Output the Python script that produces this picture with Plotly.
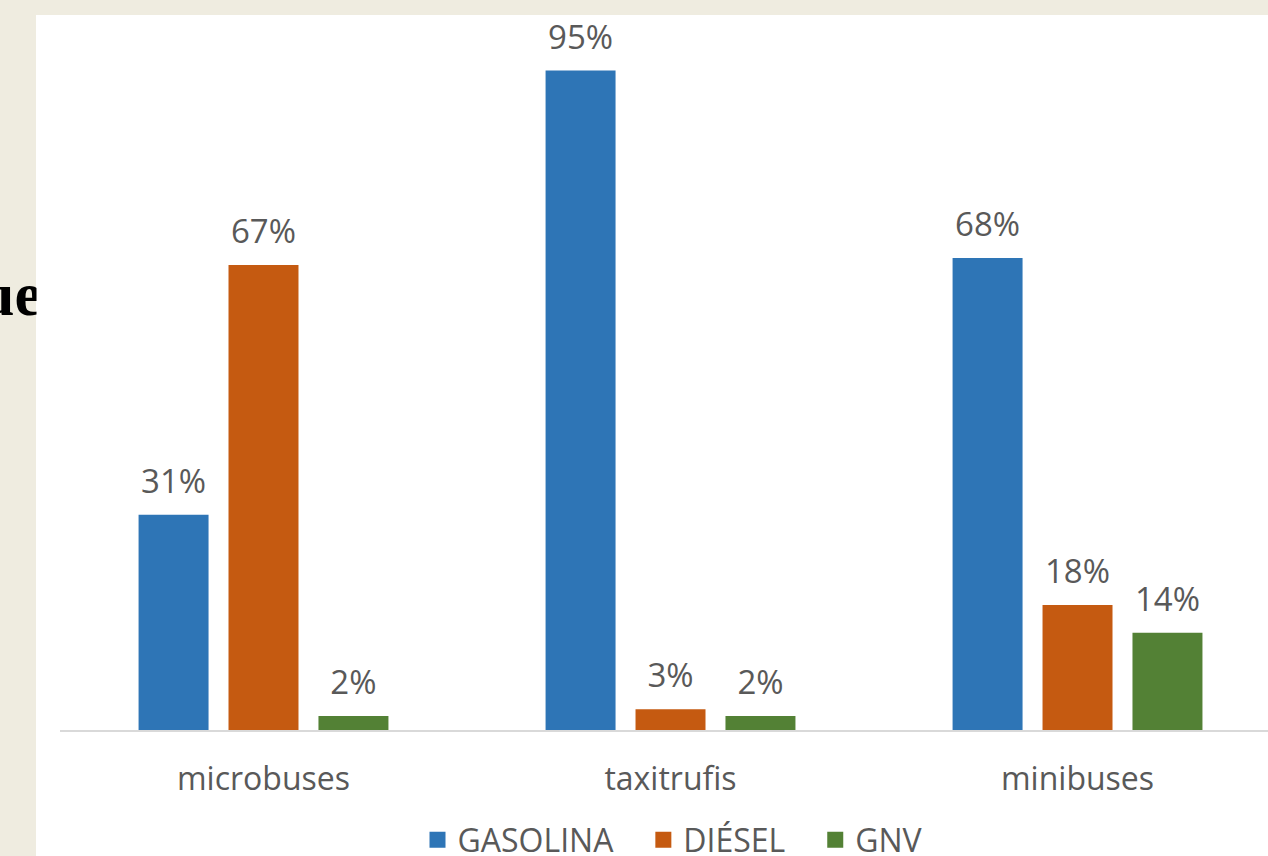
import plotly.graph_objects as go

# Fuel share by vehicle type
categories = ["microbuses", "taxitrufis", "minibuses"]
series_names = ["GASOLINA", "DIÉSEL", "GNV"]
gasolina = [31, 95, 68]
diesel = [67, 3, 18]
gnv = [2, 2, 14]
series_values = [gasolina, diesel, gnv]
series_colors = ["#2E75B6", "#C55A11", "#538135"]

side_text = "ue"

W, H = 1268, 856
M_L, M_R, M_T, M_B = 60, 0, 15, 126
plot_w = W - M_L - M_R
plot_h = H - M_T - M_B

text_gray = "#595959"
font_family = "Open Sans, Noto Sans, sans-serif"
label_size = 33


def px_x(px):
    """Horizontal pixel -> paper fraction."""
    return (px - M_L) / plot_w


def px_y(py):
    """Vertical pixel (from top) -> paper fraction."""
    return (H - M_B - py) / plot_h


fig = go.Figure()

for name, vals, color in zip(series_names, series_values, series_colors):
    fig.add_trace(go.Bar(
        x=categories, y=vals, name=name,
        marker=dict(color=color, line=dict(width=0)),
        showlegend=False, hoverinfo="skip",
    ))

# value labels, offset like the grouped bars
for i, (name, vals) in enumerate(zip(series_names, series_values)):
    fig.add_trace(go.Scatter(
        x=categories, y=vals, mode="markers+text",
        text=[f"{v}%" for v in vals], textposition="top center",
        textfont=dict(size=label_size, color=text_gray, family=font_family),
        marker=dict(size=20, opacity=0),
        alignmentgroup="labels", offsetgroup=str(i),
        showlegend=False, hoverinfo="skip", cliponaxis=False,
    ))

# legend entries (kept on a hidden overlay so they don't join the label groups)
legend_pad = ["\u00a0\u00a0\u00a0", "\u00a0\u00a0\u00a0", ""]
for name, color, pad in zip(series_names, series_colors, legend_pad):
    fig.add_trace(go.Scatter(
        x=[None], y=[None], mode="markers", name=name + pad,
        marker=dict(symbol="square", size=16, color=color),
        xaxis="x2", yaxis="y2", showlegend=True, hoverinfo="skip",
    ))

fig.update_layout(
    width=W, height=H,
    margin=dict(l=M_L, r=M_R, t=M_T, b=M_B, pad=0, autoexpand=False),
    paper_bgcolor="#EFECE0",
    plot_bgcolor="#FFFFFF",
    barmode="group", bargap=0.337, bargroupgap=0.222,
    scattermode="group", scattergap=0.337,
    font=dict(family=font_family, color=text_gray),
    xaxis=dict(
        type="category", range=[-0.5, 2.468],
        showgrid=False, zeroline=False,
        showline=True, linecolor="#D9D9D9", linewidth=2,
        ticks="", ticklabelstandoff=20,
        tickfont=dict(size=32, color=text_gray, family=font_family),
        fixedrange=True,
    ),
    yaxis=dict(
        range=[0, 103], visible=False, showgrid=False, zeroline=False,
        fixedrange=True,
    ),
    xaxis2=dict(overlaying="x", range=[0, 1], visible=False, fixedrange=True),
    yaxis2=dict(overlaying="y", range=[0, 1], visible=False, fixedrange=True),
    legend=dict(
        orientation="h", x=px_x(673), xanchor="center", y=px_y(840),
        yanchor="middle", font=dict(size=32, color=text_gray, family=font_family),
        bgcolor="rgba(0,0,0,0)", itemclick=False, itemdoubleclick=False,
    ),
    shapes=[
        # white chart panel over the slide background
        dict(type="rect", xref="paper", yref="paper", layer="below",
             x0=px_x(36), x1=1, y0=px_y(H), y1=1,
             fillcolor="#FFFFFF", line=dict(width=0)),
    ],
    annotations=[
        # tail of the slide heading, partly hidden by the panel
        dict(text=f"<b>{side_text}</b>", xref="paper", yref="paper",
             x=px_x(44), xanchor="right", y=px_y(294), yanchor="middle",
             showarrow=False,
             font=dict(size=62, color="#000000",
                       family="Liberation Serif, Times New Roman, serif")),
        # panel edge drawn over the heading
        dict(text=" ", xref="paper", yref="paper",
             x=px_x(36), xanchor="left", y=px_y(294), yanchor="middle",
             width=24, height=100, bgcolor="#FFFFFF", borderpad=0,
             showarrow=False),
    ],
    showlegend=True,
)

fig.write_html("out.html", config={"displayModeBar": False})
